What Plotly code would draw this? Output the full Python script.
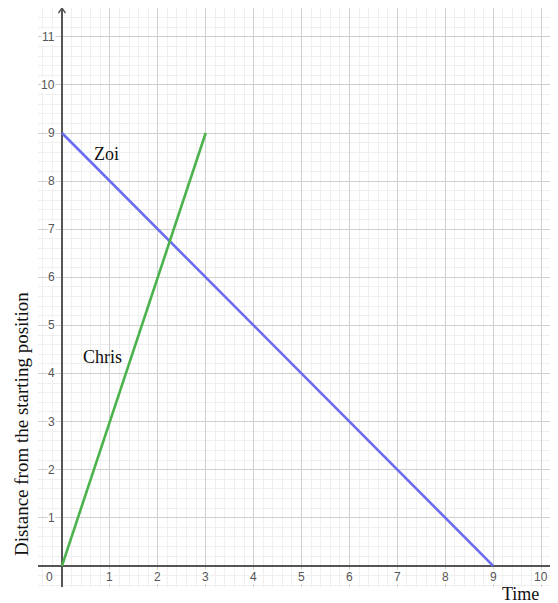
import plotly.graph_objects as go

# ---- data ----
zoi_time = [0, 9]
zoi_dist = [9, 0]
chris_time = [0, 3]
chris_dist = [0, 9]
x_tick_vals = [1, 2, 3, 4, 5, 6, 7, 8, 9, 10]
x_tick_text = ["1", "2", "3", "4", "5", "6", "7", "8", "9", "10"]
y_tick_vals = [1, 2, 3, 4, 5, 6, 7, 8, 9, 10, 11]
y_tick_text = ["1", "2", "3", "4", "5", "6", "7", "8", "9", "10", "11"]
series_labels = [("Zoi", 0.92, 8.56), ("Chris", 0.85, 4.35)]
x_title = "Time"
y_title = "Distance from the starting position"

# page body has an 8px default margin: figure is placed at (8, 8)
OFF = 8
W, H = 558 - OFF, 603 - OFF
ml, mr, mt, mb = 38 - OFF, 3, 8 - OFF, H - (587 - OFF)
XR = [-0.5, 10.29]
YR = [-0.44, 11.6]
PW = W - ml - mr
PH = H - mt - mb

fig = go.Figure()
fig.add_trace(go.Scatter(x=zoi_time, y=zoi_dist, mode="lines",
                         line=dict(color="#6b6bf0", width=2.6), hoverinfo="skip"))
fig.add_trace(go.Scatter(x=chris_time, y=chris_dist, mode="lines",
                         line=dict(color="#4cb24c", width=2.6), hoverinfo="skip"))

tick_font = dict(family="Arial, Liberation Sans, sans-serif", size=12, color="#555555")
serif = dict(family="Liberation Serif, Times New Roman, serif", size=18, color="#111111")
serif_title = dict(family="Liberation Serif, Times New Roman, serif", size=19, color="#111111")

ann = []
for v, t in zip(x_tick_vals, x_tick_text):
    ann.append(dict(x=v, y=0, xref="x", yref="y", text=t, showarrow=False,
                    xanchor="center", yanchor="top", yshift=-3,
                    bgcolor="rgba(255,255,255,0.85)", borderpad=0, font=tick_font))
for v, t in zip(y_tick_vals, y_tick_text):
    ann.append(dict(x=0, y=v, xref="x", yref="y", text=t, showarrow=False,
                    xanchor="right", yanchor="middle", xshift=-6,
                    bgcolor="rgba(255,255,255,0.85)", borderpad=0, font=tick_font))
ann.append(dict(x=0, y=0, xref="x", yref="y", text="0", showarrow=False,
                xanchor="center", yanchor="top", xshift=-12, yshift=-3,
                bgcolor="rgba(255,255,255,0.85)", borderpad=0, font=tick_font))
for name, lx, ly in series_labels:
    ann.append(dict(x=lx, y=ly, xref="x", yref="y", text=name, showarrow=False,
                    xanchor="center", yanchor="middle", font=serif))
ann.append(dict(x=(520 - 38) / PW, y=-(594 - 587) / PH,
                xref="paper", yref="paper", text=x_title, showarrow=False,
                xanchor="center", yanchor="middle", font=serif))
ann.append(dict(x=(22 - 38) / PW, y=2.95, xref="paper", yref="y",
                text=y_title, showarrow=False, textangle=-90,
                xanchor="center", yanchor="middle", font=serif_title))

axis_common = dict(showgrid=True, gridcolor="#cfcfcf", gridwidth=1,
                   zeroline=True, zerolinecolor="#555555", zerolinewidth=1.6,
                   showticklabels=False, ticks="", showline=False, fixedrange=True)

fig.update_layout(
    width=W, height=H,
    margin=dict(l=ml, r=mr, t=mt, b=mb, pad=0),
    paper_bgcolor="white", plot_bgcolor="white",
    showlegend=False,
    xaxis=dict(range=XR, dtick=1, tick0=0,
               minor=dict(dtick=0.2, tick0=0, showgrid=True, gridcolor="#efefef", gridwidth=1),
               **axis_common),
    yaxis=dict(range=YR, dtick=1, tick0=0,
               minor=dict(dtick=0.2, tick0=0, showgrid=True, gridcolor="#efefef", gridwidth=1),
               **axis_common),
    annotations=ann,
    shapes=[dict(type="path", xref="x", yref="y", xsizemode="pixel", ysizemode="pixel",
                 xanchor=0, yanchor=YR[1], path="M-3.5,-5 L0,0 L3.5,-5",
                 line=dict(color="#555555", width=1.4))],
)

fig.write_html("out.html")
